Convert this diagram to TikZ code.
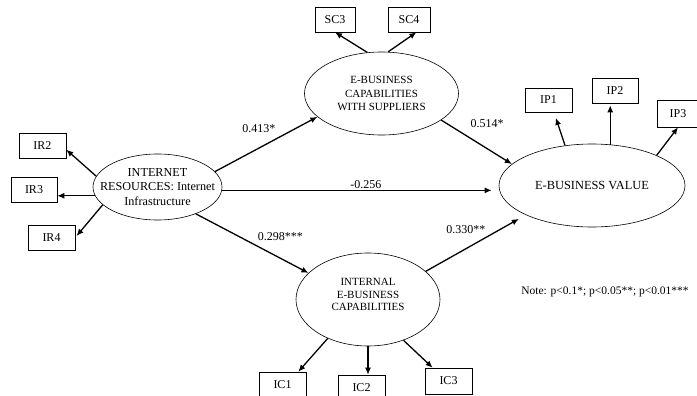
\documentclass[tikz,border=0pt]{standalone}
\usepackage{fontspec}
\setmainfont{Liberation Serif}
\usetikzlibrary{shapes.geometric,arrows.meta}

\begin{document}
\begin{tikzpicture}[x=1pt,y=-1pt,
    font=\fontsize{12}{14}\selectfont,
    >={Latex[length=7pt,width=6pt]},
    latent/.style={ellipse,draw,line width=0.6pt,inner sep=0pt},
    lattext/.style={align=center,inner sep=0pt},
    item/.style={rectangle,draw,line width=0.6pt,minimum width=47pt,minimum height=25pt,inner sep=0pt},
    link/.style={->,line width=1.3pt},
    coef/.style={inner sep=3pt}]

    \useasboundingbox (0,0) rectangle (697,396);

    % constructs
    \node[latent,minimum width=129pt,minimum height=66pt,
          label={[lattext,font=\fontsize{12.2}{14.5}\selectfont]center:INTERNET\\RESOURCES: Internet\\Infrastructure}]
          (ir) at (157.5,187) {};
    \node[latent,minimum width=154pt,minimum height=83pt,
          label={[lattext,font=\fontsize{11}{13.3}\selectfont]center:E-BUSINESS\\CAPABILITIES\\WITH SUPPLIERS}]
          (sc) at (381.5,93.5) {};
    \node[latent,minimum width=186pt,minimum height=83pt,
          label={[lattext,font=\fontsize{12.4}{14}\selectfont]center:E-BUSINESS VALUE}]
          (ev) at (592,185.5) {};
    \node[latent,minimum width=144pt,minimum height=93pt,
          label={[lattext,font=\fontsize{11}{12.5}\selectfont,yshift=5pt]center:INTERNAL\\E-BUSINESS\\CAPABILITIES}]
          (ic) at (368,299.5) {};

    % indicators
    \node[item]                 (ir2) at (42.5,145.5) {IR2};
    \node[item,minimum width=46pt] (ir3) at (34,189.5) {IR3};
    \node[item]                 (ir4) at (51.5,237.5) {IR4};

    \node[item,minimum width=40pt] (sc3) at (335,19.5) {SC3};
    \node[item,minimum width=42pt] (sc4) at (409,19.5) {SC4};

    \node[item,minimum height=24pt] (ip1) at (548.5,100) {IP1};
    \node[item,minimum width=46pt]  (ip2) at (615,90.5) {IP2};
    \node[item,minimum width=42pt,minimum height=27pt] (ip3) at (678,113.5) {IP3};

    \node[item] (ic1) at (282.5,384.5) {IC1};
    \node[item] (ic2) at (361.5,387.5) {IC2};
    \node[item,minimum height=26pt] (ic3) at (448.5,381) {IC3};

    % loadings
    \draw[link] (ir.170) -- (ir2.-10);
    \draw[link] (ir.188) -- (ir.188 -| ir3.east);
    \draw[link,shorten >=2pt] (ir.198) -- (ir4.east);

    \draw[link] (sc.109) -- (sc3.south);
    \draw[link] (sc.81) -- (sc4.-60);

    \draw[link,shorten >=6pt] (ev.124) -- (ip1.-66);
    \draw[link,shorten >=2pt] (ev.66) -- (ev.66 |- ip2.south);
    \draw[link] (ev.25) -- (ip3.south);

    \draw[link] (ic.224) -- (ic1.39);
    \draw[link] (ic.south) -- (ic.south |- ic2.north);
    \draw[link] (ic.-49) -- (ic3.140);

    % paths
    \draw[link] (ir.15) -- node[coef,pos=0.43,above=12pt] {0.413*} (sc.200);
    \draw[link] (sc.-24) -- node[coef,pos=0.65,above=17pt] {0.514*} (ev.165);
    \draw[link,shorten >=7pt] (ir.-3) -- node[coef,pos=0.52,above=-2pt] {-0.256} (ir.-3 -| ev.west);
    \draw[link] (ir.-35) -- node[coef,pos=0.75,above=14pt] {0.298***} (ic.156);
    \draw[link,shorten >=8pt] (ic.26) -- node[coef,pos=0.4,above=11pt] {0.330**} (ev.204);

    \node[font=\fontsize{11.5}{14}\selectfont] (note) at (605,292) {Note: p<0.1*; p<0.05**; p<0.01***};
\end{tikzpicture}
\end{document}
